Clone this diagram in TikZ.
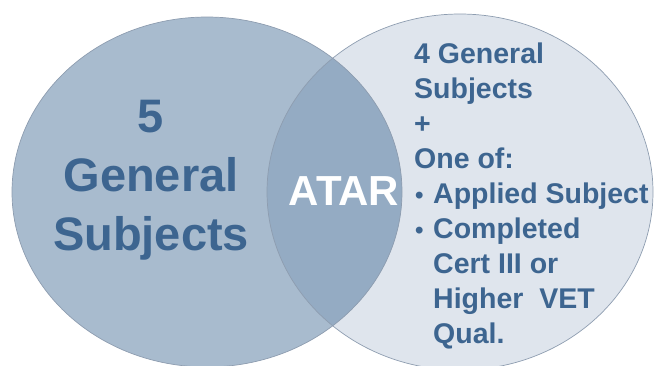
\documentclass[tikz,border=0pt]{standalone}
\usepackage{fontspec}
\setmainfont{Liberation Sans}
\usetikzlibrary{positioning}
\definecolor{leftBlue}{HTML}{A8BBCE}
\definecolor{midBlue}{HTML}{94ABC3}
\definecolor{paleBlue}{HTML}{DFE5ED}
\definecolor{edgeGray}{HTML}{8E9DB0}
\definecolor{textBlue}{HTML}{3D6590}
\newcommand{\listdot}{\makebox[19pt][l]{\hspace{1pt}{\fontsize{24}{35}\selectfont\textbullet}}}
\newcommand{\listgap}{\makebox[19pt][l]{}}

\begin{document}
\begin{tikzpicture}[x=1pt,y=-1pt,
    setEllipse/.style={draw=edgeGray,line width=0.7pt},
    bigText/.style={text=textBlue,font=\bfseries\fontsize{47}{59}\selectfont,align=center,inner sep=0pt},
    listText/.style={text=textBlue,font=\bfseries\fontsize{28.5}{35}\selectfont,align=left,inner sep=0pt}]
  \useasboundingbox (0,0) rectangle (654,365);
  % the two sets
  \fill[paleBlue] (460,192) ellipse [x radius=193,y radius=178];
  \fill[leftBlue] (207,192) ellipse [x radius=195,y radius=175];
  \begin{scope}
    \clip (460,192) ellipse [x radius=193,y radius=178];
    \fill[midBlue] (207,192) ellipse [x radius=195,y radius=175];
  \end{scope}
  \draw[setEllipse] (207,192) ellipse [x radius=195,y radius=175];
  \draw[setEllipse] (460,192) ellipse [x radius=193,y radius=178];
  % labels
  \node[bigText,anchor=north] (general) at (151,100) {5\\General\\Subjects};
  \node[text=white,font=\bfseries\fontsize{42}{45}\selectfont,inner sep=0pt,anchor=base] (atar) at (344,205) {ATAR};
  \node[listText,anchor=north west] (oneOf) at (414,43) {4 General\\Subjects\\+\\One of:\\
    \listdot Applied Subject\\
    \listdot Completed\\
    \listgap Cert III or\\
    \listgap Higher~~VET\\
    \listgap Qual.};
\end{tikzpicture}
\end{document}
